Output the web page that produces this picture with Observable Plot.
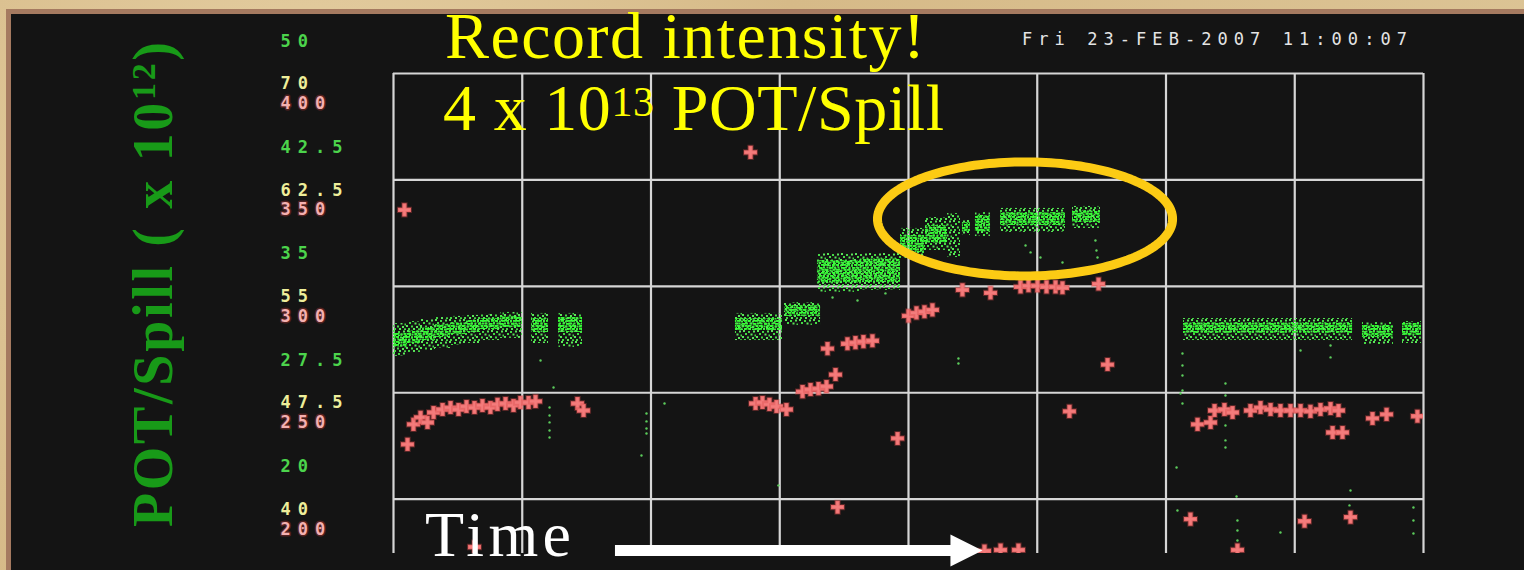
<!DOCTYPE html>
<html><head><meta charset="utf-8">
<script src="https://cdn.jsdelivr.net/npm/d3@7"></script>
<script src="https://cdn.jsdelivr.net/npm/@observablehq/plot@0.6"></script>
<style>
html,body{margin:0;padding:0;}
body{width:1524px;height:570px;overflow:hidden;position:relative;
  background:radial-gradient(circle at 20% 30%, #e6d0a4 0, #d6ba88 40%, #dcc495 100%);}
#panel{position:absolute;left:6px;top:9px;right:0;bottom:0;background:#141414;
  border-left:5px solid #a57a60;border-top:5px solid #a57a60;}
#chart{position:absolute;left:0;top:0;}
#ann{position:absolute;left:0;top:0;pointer-events:none;}
</style></head>
<body>
<div id="panel"></div>
<svg width="0" height="0" style="position:absolute">
  <defs>
    <pattern id="speckOuter" width="14" height="11" patternUnits="userSpaceOnUse">
      <rect x="1" y="0" width="2" height="2" fill="#5ae65a"/>
      <rect x="6" y="1" width="2" height="2" fill="#44d844"/>
      <rect x="11" y="0.5" width="2" height="2" fill="#5ae65a"/>
      <rect x="3" y="3" width="2" height="2" fill="#44d844"/>
      <rect x="8.5" y="3.5" width="2" height="2" fill="#5ae65a"/>
      <rect x="12.5" y="4.5" width="1.5" height="2" fill="#44d844"/>
      <rect x="0" y="6" width="2" height="2" fill="#5ae65a"/>
      <rect x="5" y="6.5" width="2" height="2" fill="#44d844"/>
      <rect x="10" y="7" width="2" height="2" fill="#5ae65a"/>
      <rect x="2" y="9" width="2" height="2" fill="#44d844"/>
      <rect x="7" y="9" width="2" height="2" fill="#5ae65a"/>
      <rect x="12" y="9.3" width="2" height="1.7" fill="#44d844"/>
    </pattern>
    <pattern id="speckCore" width="11" height="8" patternUnits="userSpaceOnUse">
      <rect x="0" y="0" width="3" height="1.8" fill="#33ff33"/>
      <rect x="4" y="0.5" width="2" height="2" fill="#3ef03e"/>
      <rect x="7" y="0" width="3.5" height="1.8" fill="#33ff33"/>
      <rect x="1.5" y="2.5" width="2" height="2" fill="#3ef03e"/>
      <rect x="5" y="3" width="3.5" height="1.8" fill="#33ff33"/>
      <rect x="9" y="2.5" width="2" height="2" fill="#3ef03e"/>
      <rect x="0" y="5" width="3.5" height="1.8" fill="#33ff33"/>
      <rect x="4.5" y="5.5" width="2" height="2" fill="#3ef03e"/>
      <rect x="7.5" y="5" width="3" height="1.8" fill="#33ff33"/>
      <rect x="2" y="7" width="2" height="1" fill="#3ef03e"/>
      <rect x="9.5" y="7" width="1.5" height="1" fill="#33ff33"/>
    </pattern>
  </defs>
</svg>
<div id="chart"></div>
<svg id="ann" width="1524" height="570">
  <text x="445" y="58" font-family="Liberation Serif" font-size="66" fill="#ffff00" textLength="480" lengthAdjust="spacing">Record intensity!</text>
  <text x="443" y="130" font-family="Liberation Serif" font-size="66" fill="#ffff00" textLength="501" lengthAdjust="spacing">4 x 10<tspan font-size="42" dy="-14">13</tspan><tspan dy="14"> POT/Spill</tspan></text>
  <text x="1022" y="45" font-family="DejaVu Sans Mono" font-size="17" fill="#e4e4e4" textLength="385" lengthAdjust="spacing">Fri 23-FEB-2007 11:00:07</text>
  <text transform="translate(172,527) rotate(-90)" font-family="Liberation Serif" font-weight="bold" font-size="56" fill="#189a18" textLength="485" lengthAdjust="spacing">POT/Spill ( x 10<tspan font-size="34" dy="-17">12</tspan><tspan font-size="56" dy="17">)</tspan></text>
  <text x="425" y="556" font-family="Liberation Serif" font-size="64" fill="#ffffff" textLength="146" lengthAdjust="spacing">Time</text>
</svg>
<script>
// ---- tick labels of the instrument display ----
const greenTicks  = [50, 42.5, 35, 27.5, 20];        // POT/Spill (x10^12)
const yellowTicks = [70, 62.5, 55, 47.5, 40];
const pinkTicks   = [400, 350, 300, 250, 200];

// ---- green series: POT/Spill (x10^12), spread and dense core per time window ----
const bandT0 = [0.000,0.109,0.210,0.326,0.443,0.559,0.676,0.831,1.072,1.282,2.656,3.037,3.293,3.627,3.938,4.132,4.303,4.419,4.520,4.715,5.274,6.136,7.526,7.837];
const bandT1 = [0.109,0.210,0.326,0.443,0.559,0.676,0.831,1.002,1.204,1.468,3.021,3.317,3.627,3.938,4.132,4.303,4.404,4.481,4.637,5.219,5.491,7.449,7.767,7.984];
const bandLo = [27.78,28.06,28.20,28.34,28.55,28.69,28.90,29.05,28.69,28.41,28.90,29.96,32.29,32.43,34.68,35.25,34.75,36.30,36.23,36.52,36.80,28.90,28.62,28.69];
const bandHi = [30.10,30.24,30.38,30.52,30.60,30.67,30.74,30.88,30.81,30.81,30.81,31.58,35.03,35.03,36.80,37.57,37.85,37.36,37.92,38.21,38.35,30.45,30.17,30.24];
const coreLo = [28.41,28.69,28.90,29.12,29.33,29.47,29.68,29.82,29.47,29.47,29.61,30.60,32.92,32.99,35.11,35.74,null,36.52,36.52,37.01,37.22,29.40,29.12,29.26];
const coreHi = [29.40,29.61,29.82,30.03,30.17,30.31,30.45,30.60,30.45,30.52,30.45,31.37,34.54,34.68,36.30,37.01,null,37.22,37.71,37.92,38.07,30.17,29.96,30.10];

// isolated green readings (time, POT/Spill)
const greenDotT = [1.142,1.243,1.212,1.212,1.212,1.212,1.212,1.965,1.965,1.965,1.965,1.926,2.105,2.990,3.410,3.604,3.821,4.388,4.388,4.909,4.948,5.025,5.452,5.460,5.468,5.196,6.128,6.128,6.128,6.128,6.128,6.113,6.462,6.462,6.462,6.462,6.462,6.462,7.045,7.278,7.278,6.082,6.548,7.433,7.425,6.555,6.555,6.555,6.555,6.889,7.922,7.922,7.922,6.089];
const greenDotV = [27.49,25.59,24.18,23.62,23.13,22.56,22.07,23.76,23.20,22.70,22.35,20.80,24.46,18.69,31.93,31.72,32.22,27.63,27.28,35.60,35.11,34.75,35.95,35.25,34.75,34.40,27.99,27.14,26.44,25.38,24.46,25.17,25.87,25.03,23.97,22.91,21.86,21.36,28.20,28.55,27.71,19.95,17.91,18.33,17.28,16.22,15.51,14.81,14.32,15.37,17.13,16.22,15.30,16.92];

// ---- pink series (right-hand 200–400 scale) ----
const pinkT = [0.085,2.773,0.109,0.155,0.210,0.264,0.311,0.381,0.443,0.505,0.567,0.629,0.691,0.753,0.808,0.870,0.932,0.986,1.049,1.103,1.429,1.476,
  2.812,2.866,2.920,2.975,3.052,3.177,3.239,3.301,3.363,3.433,3.371,3.526,3.588,3.650,3.720,4.000,4.062,4.124,4.186,4.419,4.637,
  4.870,4.932,5.002,5.072,5.142,5.196,5.476,5.546,5.250,3.915,3.449,0.629,4.590,4.715,4.854,
  6.245,6.346,6.377,6.454,6.517,6.656,6.734,6.812,6.889,6.967,7.045,7.122,7.200,7.278,7.340,7.294,7.371,7.604,7.713,7.953,6.190,7.076,7.433,6.555];
const pinkV = [350.0,377.0,239.8,249.2,252.5,250.1,254.8,256.2,257.1,256.2,257.6,257.1,258.1,257.1,258.6,259.0,258.1,259.5,259.5,260.0,259.0,255.7,
  259.0,259.5,258.6,257.6,256.2,264.6,265.6,266.0,267.0,272.6,284.8,287.1,287.6,288.1,288.5,300.2,301.6,302.1,303.0,312.4,311.0,
  313.8,314.3,314.3,313.8,313.8,313.4,315.2,277.3,255.3,242.6,210.3,191.6,189.7,190.2,190.2,
  249.2,250.1,255.7,256.2,254.8,255.7,257.1,256.2,255.7,255.7,255.7,255.3,256.2,256.7,255.7,245.4,245.4,252.0,253.9,253.0,204.7,203.7,205.6,190.2];

// ---- annotations (data units) ----
const highlight = {t: 4.905, v: 37.47, rt: 1.146, rv: 4.02};   // "record" region
const timeArrow = {t0: 1.724, t1: 4.575, v: 14.10};

// display scale relations of the instrument screen
const gridOffset = 2.28;                       // labels sit above their grid line
const yellowToGreen = v => v - 23.0;
const pinkToGreen = p => 45.61 - (400 - p) * 0.15;

const bands = bandT0.map((t0, i) => ({t0, t1: bandT1[i], lo: bandLo[i], hi: bandHi[i], clo: coreLo[i], chi: coreHi[i]}));
const cores = bands.filter(d => d.clo != null);
const greenDots = greenDotT.map((t, i) => ({t, v: greenDotV[i]}));
const pinks = pinkT.map((t, i) => ({t, v: pinkToGreen(pinkV[i])}));
const ellipse = d3.range(0, 2 * Math.PI, Math.PI / 90).map(a => ({t: highlight.t + highlight.rt * Math.cos(a), v: highlight.v + highlight.rv * Math.sin(a)}));

const rightTriangle = {
  draw(ctx, size) {
    const r = Math.sqrt(size / Math.PI) * 1.3;
    ctx.moveTo(r, 0); ctx.lineTo(-r, -r); ctx.lineTo(-r, r); ctx.closePath();
  }
};

const xGrid = d3.range(0, 9);
const yGrid = greenTicks.map(v => v - gridOffset);

const chart = Plot.plot({
  width: 1524, height: 570,
  marginLeft: 393, marginRight: 101, marginTop: 73, marginBottom: 17,
  x: {domain: [0, 8], axis: null},
  y: {domain: [13.89, 47.72], axis: null},
  style: {background: "transparent", overflow: "visible", fontFamily: "DejaVu Sans Mono", fontSize: "17px", fontWeight: "bold", letterSpacing: "7px"},
  marks: [
    Plot.ruleX(xGrid, {x: d => d, stroke: "#d6d6d6", strokeWidth: 2.2}),
    Plot.ruleY(yGrid, {y: d => d, stroke: "#d6d6d6", strokeWidth: 2.2}),
    Plot.rect(bands, {x1: "t0", x2: "t1", y1: "lo", y2: "hi", fill: "url(#speckOuter)", clip: true}),
    Plot.rect(cores, {x1: "t0", x2: "t1", y1: "clo", y2: "chi", fill: "url(#speckCore)", clip: true}),
    Plot.dot(greenDots, {x: "t", y: "v", r: 1.2, fill: "#5ccc5c", clip: true}),
    Plot.dot(pinks, {x: "t", y: "v", symbol: "cross", r: 5.5, fill: "#f47c7c", stroke: "#d84848", strokeOpacity: 0.35, strokeWidth: 2, clip: true}),
    Plot.line(ellipse, {x: "t", y: "v", curve: "linear-closed", stroke: "#fccb14", strokeWidth: 9}),
    Plot.ruleY([timeArrow], {y: "v", x1: "t0", x2: d => d.t1 - 0.2, stroke: "#ffffff", strokeWidth: 11}),
    Plot.dot([timeArrow], {x: d => d.t1 - 0.125, y: "v", symbol: rightTriangle, r: 12.3, fill: "#ffffff"}),
    Plot.text(greenTicks, {y: d => d, text: d => String(d), frameAnchor: "left", dx: -113, textAnchor: "start", fill: "#4cd44c"}),
    Plot.text(yellowTicks, {y: d => yellowToGreen(d), text: d => String(d), frameAnchor: "left", dx: -113, textAnchor: "start", fill: "#eeee9a"}),
    Plot.text(pinkTicks, {y: d => pinkToGreen(d), text: d => String(d), frameAnchor: "left", dx: -113, textAnchor: "start", fill: "#f4b0b0", stroke: "#c83a3a", strokeOpacity: 0.35, strokeWidth: 3, paintOrder: "stroke"})
  ]
});
document.getElementById("chart").appendChild(chart);
</script>
</body></html>
